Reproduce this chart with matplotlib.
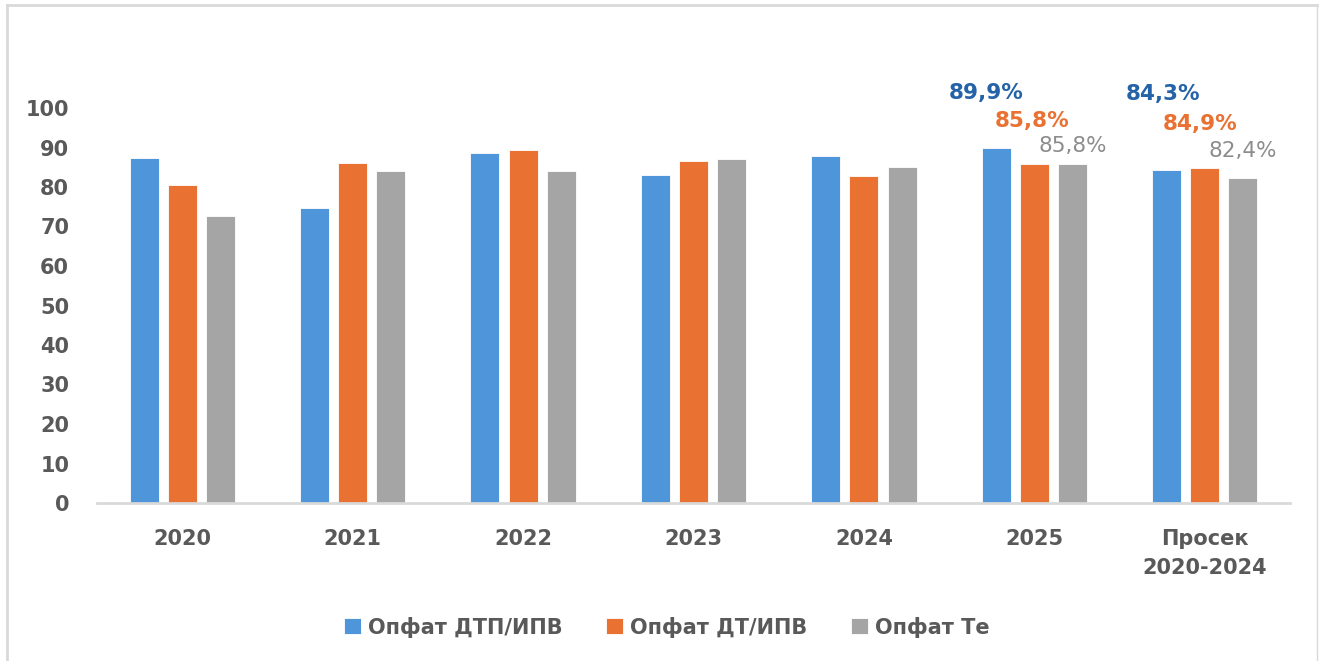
import matplotlib
matplotlib.use("Agg")
import matplotlib.pyplot as plt
import numpy as np
from matplotlib.lines import Line2D

categories = ["2020", "2021", "2022", "2023", "2024", "2025", "Просек\n2020-2024"]
series_names = ["Опфат ДТП/ИПВ", "Опфат ДТ/ИПВ", "Опфат Те"]
dtp_ipv = [87.3, 74.7, 88.5, 83.1, 87.8, 89.9, 84.3]
dt_ipv = [80.4, 86.1, 89.4, 86.7, 82.9, 85.8, 84.9]
te = [72.6, 84.0, 84.0, 87.0, 85.0, 85.8, 82.4]
yticks = [0, 10, 20, 30, 40, 50, 60, 70, 80, 90, 100]
labelled = [5, 6]

colors = ["#4E95D9", "#E97132", "#A5A5A5"]
label_colors = ["#2563A8", "#E97132", "#8C8C8C"]
label_weights = ["bold", "bold", "normal"]

plt.rcParams['font.family'] = ['DejaVu Sans']

fig = plt.figure(figsize=(13.19, 6.61), dpi=100)
ax = fig.add_axes([97/1319, 1-503/661, (1290-97)/1319, (503-108)/661])

x = np.arange(len(categories))
w = 0.17
step = 0.224
series = [dtp_ipv, dt_ipv, te]
for i, (vals, c, name) in enumerate(zip(series, colors, series_names)):
    ax.bar(x + (i-1)*step, vals, width=w, color=c, label=name,
           edgecolor="white", linewidth=0.6, zorder=2)

# data label offsets in pixels (manual positions as in the reference)
offsets = {5: [(-10, 55), (-2, 43), (0, 18)],
           6: [(-4, 76), (-5, 44), (0, 27)]}
for idx in labelled:
    for i, vals in enumerate(series):
        dx, dy = offsets[idx][i]
        ax.annotate(f"{vals[idx]:.1f}%".replace(".", ","),
                    xy=(x[idx] + (i-1)*step, vals[idx]),
                    xytext=(dx, dy), textcoords="offset pixels",
                    ha="center", va="center", fontsize=15.5,
                    fontweight=label_weights[i],
                    color=label_colors[i], annotation_clip=False)

ax.set_xlim(-0.5, len(categories)-0.5)
ax.set_ylim(0, 100)
ax.set_yticks(yticks)
ax.set_xticks(x)
ax.set_xticklabels(categories, fontsize=15, fontweight="bold", color="#595959",
                   linespacing=1.55)
ax.set_yticklabels([str(v) for v in yticks], fontsize=15, fontweight="bold", color="#595959")
ax.tick_params(axis="both", length=0)
ax.tick_params(axis="x", pad=19)
ax.tick_params(axis="y", pad=20)
for s in ["top", "right", "left"]:
    ax.spines[s].set_visible(False)
ax.spines["bottom"].set_color("#D9D9D9")
ax.spines["bottom"].set_linewidth(2)
ax.spines["bottom"].set_zorder(3)

leg = fig.legend(loc="center", bbox_to_anchor=(667/1319, 1-627/661), ncol=3,
                 frameon=False, handlelength=0.8, handleheight=0.8,
                 handletextpad=0.35, columnspacing=2.1,
                 prop={'weight': 'bold', 'size': 15})
for t in leg.get_texts():
    t.set_color("#595959")

# chart border (left, top, right)
bc = "#D9D9D9"
fig.lines.append(Line2D([7/1319, 7/1319], [0, 1-5/661], transform=fig.transFigure,
                        color=bc, linewidth=2))
fig.lines.append(Line2D([7/1319, 1317/1319], [1-5/661, 1-5/661], transform=fig.transFigure,
                        color=bc, linewidth=2))
fig.lines.append(Line2D([1317/1319, 1317/1319], [0, 1-5/661], transform=fig.transFigure,
                        color=bc, linewidth=1))

fig.savefig("out.png", dpi=100)
